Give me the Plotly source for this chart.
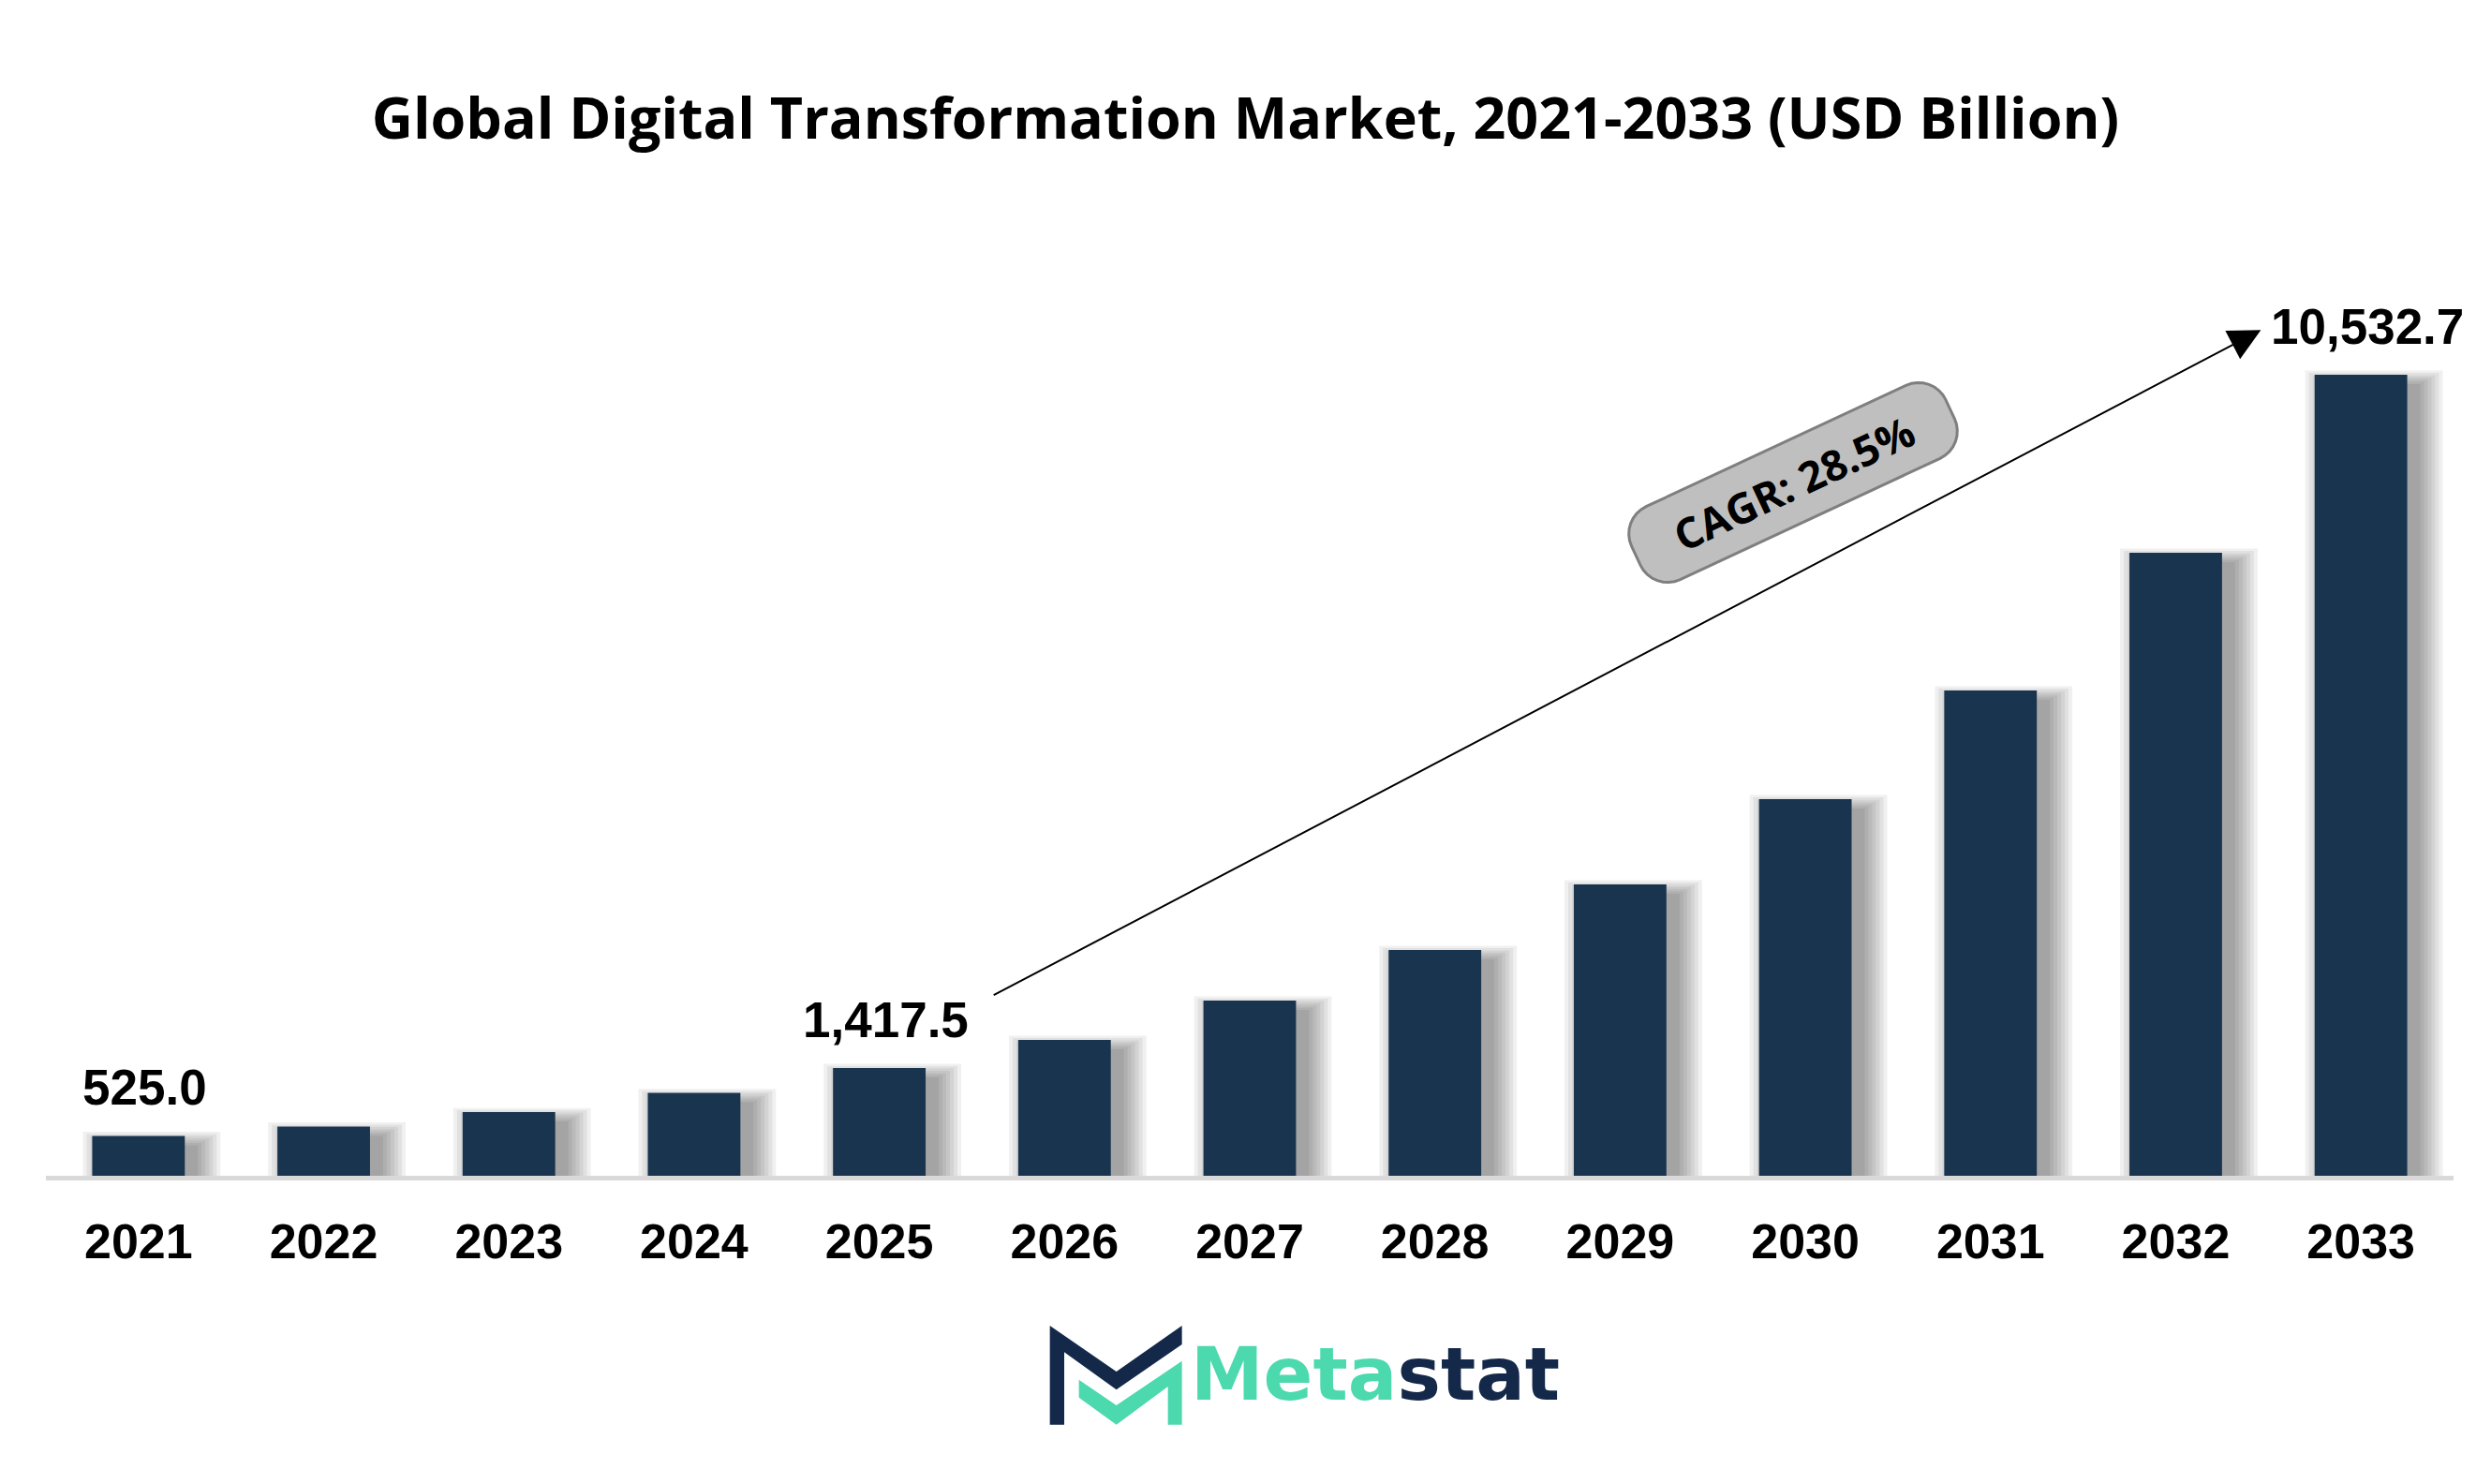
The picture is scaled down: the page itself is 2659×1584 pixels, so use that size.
import math
import plotly.graph_objects as go

# ---------------- data ----------------
years = ["2021", "2022", "2023", "2024", "2025", "2026", "2027",
         "2028", "2029", "2030", "2031", "2032", "2033"]
values = [525.0, 648, 837, 1089, 1417.5, 1786, 2304, 2969, 3831, 4952, 6381, 8192, 10532.7]
label_years = ["2021", "2025", "2033"]
label_texts = ["525.0", "1,417.5", "10,532.7"]
title_text = "Global Digital Transformation Market, 2021-2033 (USD Billion)"
cagr_text = "CAGR: 28.5%"
arrow_tail = (4.61, 2365)     # (category index, value)
arrow_head = (11.46, 11120)

# ---------------- layout constants ----------------
W, H = 2659, 1584
ML, MR, MT, MB = 49, 40, 200, 329
PW, PH = W - ML - MR, H - MT - MB
Y_MAX = PH * 10532.7 / 855.0
BOTTOM = H - MB
PX_X = len(years) / PW          # category units per pixel
PX_Y = Y_MAX / PH               # value units per pixel
BAR_W = 0.5
NAVY = "#19344f"

fig = go.Figure()

# soft drop shadow (layered translucent bars)
DX = 14
for s in [0, 4, 8, 12, 16, 20, 24]:
    top_ext = max(-10.0, s * 0.6 - 10)
    fig.add_trace(go.Bar(
        x=years, y=[v + top_ext * PX_Y for v in values], base=0,
        width=BAR_W + 2 * s * PX_X, offset=-BAR_W / 2 + (DX - s) * PX_X,
        marker=dict(color="rgba(0,0,0,0.06)", line=dict(width=0)),
        hoverinfo="skip", showlegend=False))

fig.add_trace(go.Bar(
    x=years, y=values, width=BAR_W, offset=-BAR_W / 2,
    marker=dict(color=NAVY, line=dict(width=0)), showlegend=False))

# value labels
for yr, txt in zip(label_years, label_texts):
    i = years.index(yr)
    fig.add_annotation(x=i, y=values[i], xref="x", yref="y", text=txt, showarrow=False,
                       yanchor="bottom", yshift=20, xshift=7,
                       font=dict(family="Liberation Sans", size=53, color="black", weight="bold"))

# CAGR arrow
fig.add_annotation(x=arrow_head[0], y=arrow_head[1], ax=arrow_tail[0], ay=arrow_tail[1],
                   xref="x", yref="y", axref="x", ayref="y", text="",
                   showarrow=True, arrowhead=2, arrowsize=3.4, arrowwidth=2, arrowcolor="black")

# helpers for pixel -> paper
def px2paper(px, py):
    return (px - ML) / PW, (BOTTOM - py) / PH

# rotated rounded box for CAGR
cx, cy, L, Hh, r, ang = 1914, 515, 370, 86, 32, 25.0
th = math.radians(ang)
pts = []
corners = [(L / 2 - r, Hh / 2 - r, 0), (-(L / 2 - r), Hh / 2 - r, 90),
           (-(L / 2 - r), -(Hh / 2 - r), 180), (L / 2 - r, -(Hh / 2 - r), 270)]
for (ux, uy, a0) in corners:
    for k in range(9):
        a = math.radians(a0 + k * 90 / 8)
        u = ux + r * math.cos(a)
        v = uy + r * math.sin(a)
        px = cx + u * math.cos(th) - v * math.sin(th)
        py = cy - u * math.sin(th) - v * math.cos(th)
        pts.append(px2paper(px, py))
path = "M" + " L".join(f"{x:.5f},{y:.5f}" for x, y in pts) + " Z"
fig.add_shape(type="path", path=path, xref="paper", yref="paper",
              fillcolor="#bfbfbf", line=dict(color="#7f7f7f", width=3), layer="above")
tx, ty = px2paper(cx, cy)
fig.add_annotation(x=tx, y=ty, xref="paper", yref="paper", text=cagr_text, showarrow=False,
                   textangle=-ang, xanchor="center", yanchor="middle",
                   font=dict(family="Open Sans", size=45, color="black", weight="bold"))

# logo icon
navy_poly = [(62, 75), (275, 222), (485, 75), (485, 135), (275, 280), (108, 160), (108, 392), (62, 392)]
green_poly = [(155, 248), (275, 330), (485, 188), (485, 392), (440, 392), (440, 270), (275, 392), (155, 305)]
def logo_path(poly):
    p = [px2paper(1100 + a / 3.0, 1390 + b / 3.0) for a, b in poly]
    return "M" + " L".join(f"{x:.5f},{y:.5f}" for x, y in p) + " Z"
fig.add_shape(type="path", path=logo_path(navy_poly), xref="paper", yref="paper",
              fillcolor="#14294a", line=dict(width=0))
fig.add_shape(type="path", path=logo_path(green_poly), xref="paper", yref="paper",
              fillcolor="#4cd9ae", line=dict(width=0))
lx, ly = px2paper(1468, 1467)
fig.add_annotation(x=lx, y=ly, xref="paper", yref="paper", showarrow=False,
                   xanchor="center", yanchor="middle",
                   text="<span style='color:#4cd9ae'>Meta</span><span style='color:#14294a'>stat</span>",
                   font=dict(family="DejaVu Sans", size=78, weight="bold"))

fig.update_layout(
    width=W, height=H, margin=dict(l=ML, r=MR, t=MT, b=MB),
    paper_bgcolor="white", plot_bgcolor="white", barmode="overlay",
    title=dict(text=title_text, x=0.5, xanchor="center", xref="container",
               y=1 - 127 / H, yanchor="middle",
               font=dict(family="Open Sans", size=61, color="black", weight="bold")),
    xaxis=dict(type="category", range=[-0.5, len(years) - 0.5], showgrid=False,
               showline=True, linecolor="#d9d9d9", linewidth=5,
               ticks="outside", ticklen=21, tickcolor="rgba(0,0,0,0)",
               tickfont=dict(family="Liberation Sans", size=52, color="black", weight="bold")),
    yaxis=dict(range=[0, Y_MAX], visible=False, showgrid=False),
)

fig.write_html("out.html")
